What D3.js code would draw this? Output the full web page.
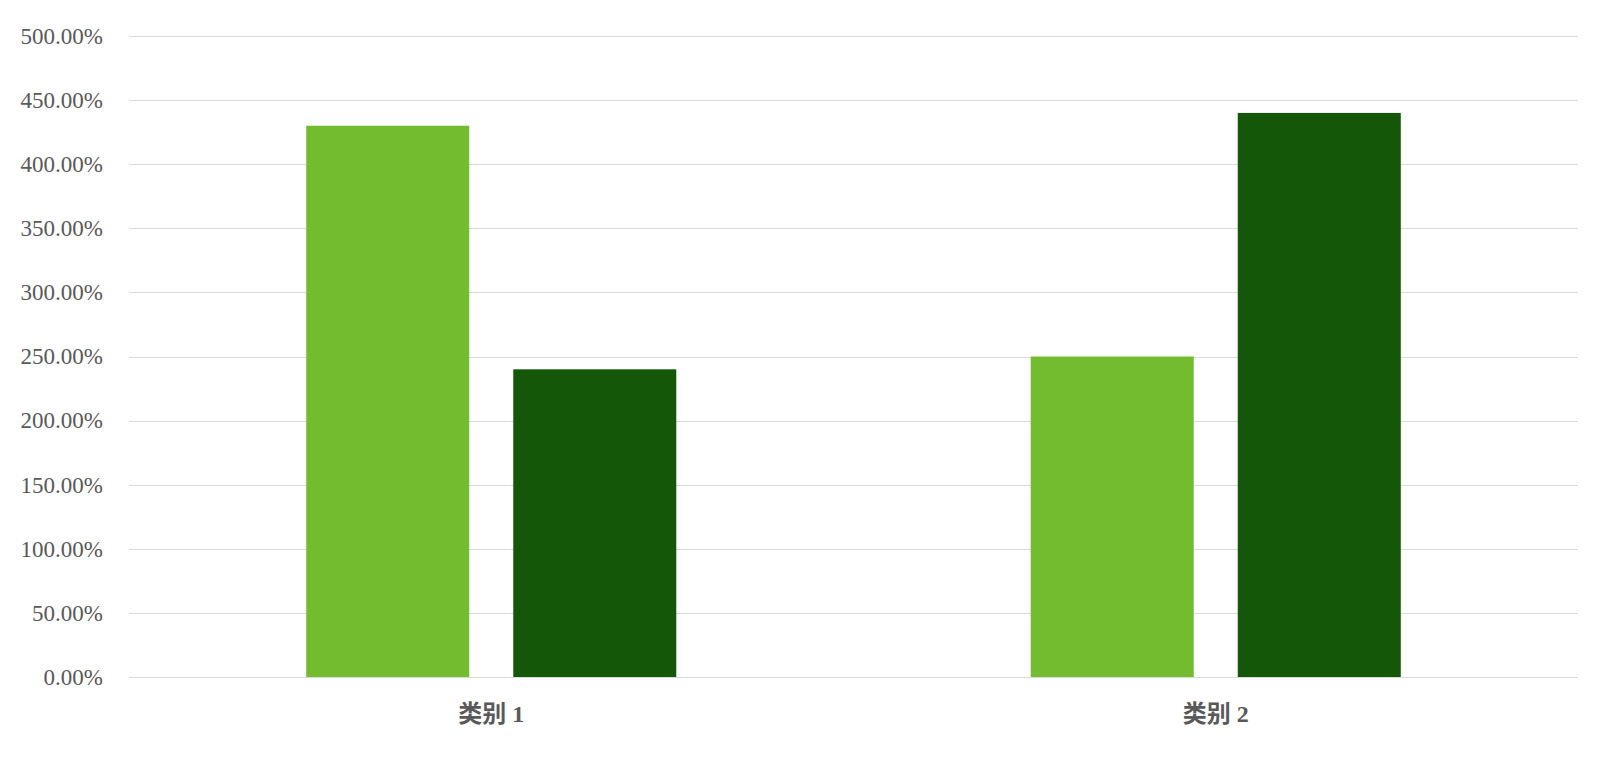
<!DOCTYPE html>
<html>
<head>
<meta charset="utf-8">
<script src="https://cdn.jsdelivr.net/npm/d3@7"></script>
<style>
  html, body { margin: 0; padding: 0; background: #ffffff; }
  svg { display: block; }
</style>
</head>
<body>
<svg id="chart" width="1609" height="760"></svg>
<script>
const categories = ["类别 1", "类别 2"];
const seriesNames = ["系列 1", "系列 2"];
const series1 = [4.30, 2.50];
const series2 = [2.40, 4.40];
const yTicks = [0, 0.5, 1, 1.5, 2, 2.5, 3, 3.5, 4, 4.5, 5];
const colors = ["#73bb2f", "#155708"];

const svg = d3.select("#chart");
const margin = { left: 129, right: 31, top: 36, bottom: 83 };
const W = 1609, H = 760;
const innerW = W - margin.left - margin.right;
const innerH = H - margin.top - margin.bottom;

const g = svg.append("g").attr("transform", `translate(${margin.left},${margin.top})`);

const x0 = d3.scaleBand().domain(categories).range([0, innerW]).padding(0);
const x1 = d3.scaleBand().domain(seriesNames).range([0, x0.bandwidth()])
  .paddingInner(0.2126).paddingOuter(0.856);
const y = d3.scaleLinear().domain([0, 5]).range([innerH, 0]);

// gridlines
g.append("g")
  .selectAll("line")
  .data(yTicks)
  .join("line")
  .attr("x1", 0).attr("x2", innerW)
  .attr("y1", d => Math.round(y(d)) + 0.5)
  .attr("y2", d => Math.round(y(d)) + 0.5)
  .attr("stroke", "#d9d9d9").attr("stroke-width", 1);

// y axis labels
const yAxis = d3.axisLeft(y).tickValues(yTicks).tickSize(0).tickPadding(26)
  .tickFormat(d => (d * 100).toFixed(2) + "%");
const ya = g.append("g").call(yAxis);
ya.select(".domain").remove();
ya.selectAll("text")
  .attr("fill", "#595959")
  .style("font-family", "'Liberation Serif', 'DejaVu Serif', serif")
  .style("font-size", "23px");

// bars
const data = categories.map((c, i) => ({ cat: c, vals: [series1[i], series2[i]] }));
const groups = g.append("g").selectAll("g")
  .data(data).join("g")
  .attr("transform", d => `translate(${x0(d.cat)},0)`);
groups.selectAll("rect")
  .data(d => d.vals.map((v, j) => ({ name: seriesNames[j], v, j })))
  .join("rect")
  .attr("x", d => x1(d.name))
  .attr("width", x1.bandwidth())
  .attr("y", d => y(d.v))
  .attr("height", d => innerH - y(d.v))
  .attr("fill", d => colors[d.j]);

// x axis labels
const xAxis = d3.axisBottom(x0).tickSize(0).tickPadding(28);
const xa = g.append("g").attr("transform", `translate(0,${innerH})`).call(xAxis);
xa.select(".domain").remove();
xa.selectAll("text")
  .attr("fill", "#595959")
  .style("font-family", "'Liberation Serif', 'Noto Sans CJK SC', serif")
  .style("font-weight", "bold")
  .style("font-size", "24px");
</script>
</body>
</html>
